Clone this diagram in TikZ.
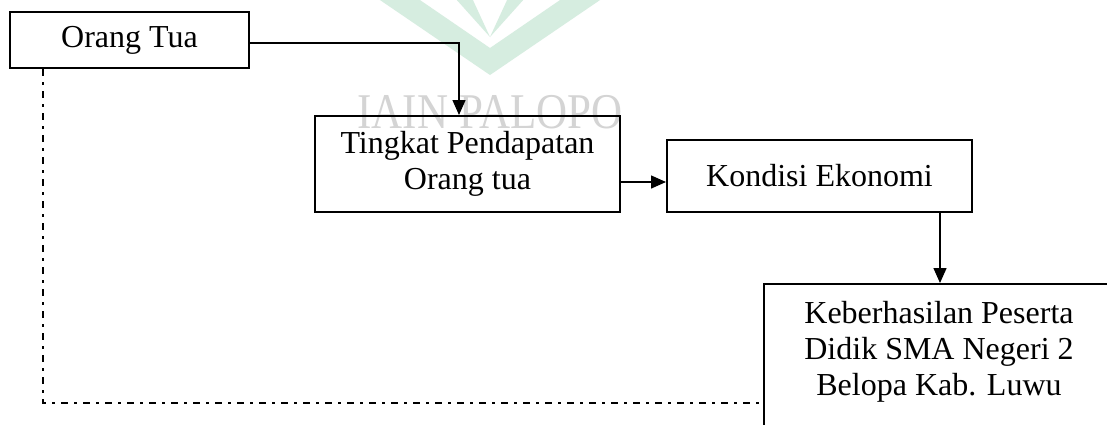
\documentclass[tikz,border=0pt]{standalone}
\usepackage{fontspec}
\setmainfont{Liberation Serif}
\usetikzlibrary{arrows.meta,calc}
\definecolor{wmgreen}{RGB}{214,237,224}
\definecolor{wmgray}{RGB}{212,212,212}
\begin{document}
\begin{tikzpicture}[x=1pt,y=-1pt,
  box/.style={draw=black,line width=2pt,rectangle,inner sep=0pt,
    font=\fontsize{32}{36}\selectfont,align=center},
  arr/.style={draw=black,line width=1.4pt,-{Triangle[length=15pt,width=13pt]}},
  dd/.style={draw=black,line width=1.5pt,dash pattern=on 7pt off 6pt on 2.5pt off 6.5pt}]
\clip (0,0) rectangle (1107,424);
\fill[white] (0,0) rectangle (1107,424);
% watermark
\fill[wmgreen] (377,-2) -- (490,75) -- (603,-2) -- (563,-2) -- (490,48) -- (417,-2) -- cycle;
\fill[wmgreen] (455,-2) -- (472,-2) -- (490,37) -- cycle;
\fill[wmgreen] (508,-2) -- (525,-2) -- (490,37) -- cycle;
\node[anchor=base,text=wmgray,inner sep=0pt,xscale=0.86,font=\fontsize{50}{50}\selectfont] (wm) at (490,128) {IAIN PALOPO};
% boxes
\node[box,minimum width=239pt,minimum height=56pt] (ot) at (129.5,40) {Orang Tua};
\node[box,minimum width=305pt,minimum height=96pt] (tp) at (467.5,164) {Tingkat Pendapatan\\Orang tua};
\node[box,minimum width=305pt,minimum height=72pt] (ke) at (819.5,176) {Kondisi Ekonomi};
\node[box,minimum width=352pt,minimum height=170pt,anchor=north west] (kb) at (763,283) {};
\node[font=\fontsize{32}{36}\selectfont,align=center,inner sep=0pt,anchor=base] (kbt) at (939,395) {Keberhasilan Peserta\\Didik SMA Negeri 2\\Belopa Kab. Luwu};
% connectors
\coordinate (c1) at (459,43);
\coordinate (dd) at (43,403);
\draw[arr] (ot.east |- c1) -| (c1 |- tp.north);
\draw[arr] ([yshift=-18pt]tp.east) -- ([yshift=-18pt]tp.east -| ke.west);
\draw[arr] (kb.north |- ke.south) -- (kb.north);
\draw[dd] (ot.south -| dd) |- (kb.west |- dd);
\end{tikzpicture}
\end{document}
